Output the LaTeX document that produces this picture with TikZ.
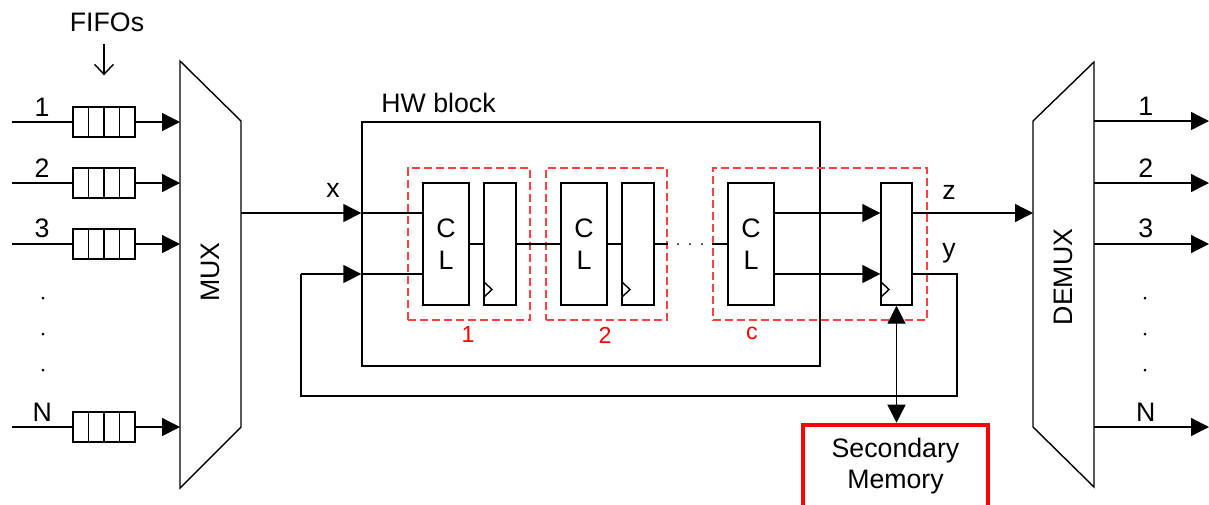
\documentclass[tikz,border=0pt]{standalone}
\usepackage{fontspec}
\setmainfont{Liberation Sans}
\usetikzlibrary{arrows.meta,calc,positioning}

\begin{document}
\begin{tikzpicture}[x=1cm, y=-1cm, line width=0.4pt,
  every node/.style={font=\fontsize{7.6}{9}\selectfont},
  >={Triangle[length=0.18cm,width=0.18cm]},
  fifo/.style={draw, minimum width=0.62cm, minimum height=0.30cm, inner sep=0pt,
    path picture={\foreach \k in {1,2,3}
      \draw ($(path picture bounding box.south west)!\k/4!(path picture bounding box.south east)$)
         -- ($(path picture bounding box.north west)!\k/4!(path picture bounding box.north east)$);}},
  clbox/.style={draw, minimum width=0.46cm, minimum height=1.22cm, inner sep=0pt, align=center},
  regbox/.style={draw, minimum width=0.32cm, minimum height=1.22cm, inner sep=0pt,
    path picture={\draw ([yshift=0.08cm]path picture bounding box.south west)
      -- ++(0.08cm,0.075cm) -- ++(-0.08cm,0.075cm);}},
  stage/.style={draw=red!75, dash pattern=on 0.08cm off 0.04cm, minimum height=1.52cm, inner sep=0pt},
  stagelbl/.style={text=red, font=\fontsize{6.6}{8}\selectfont},
  linelbl/.style={above, inner sep=1.5pt},
  membox/.style={draw=red, line width=1.3pt, minimum width=1.85cm, minimum height=0.82cm, align=center}]

  \useasboundingbox (0,0) rectangle (12.09,5.04);
  \clip (0,0) rectangle (12.09,5.04);

  % inputs and FIFOs
  \node (fifolbl) at (1.07,0.22) {FIFOs};
  \node[fifo] (f1) at (1.04,1.22) {};
  \node[fifo] (f2) at (1.04,1.83) {};
  \node[fifo] (f3) at (1.04,2.44) {};
  \node[fifo] (fn) at (1.04,4.27) {};
  \coordinate (in1) at (0.12,1.22);
  \coordinate (in2) at (0.12,1.83);
  \coordinate (in3) at (0.12,2.44);
  \coordinate (inn) at (0.12,4.27);
  \draw[-{Straight Barb[length=0.1cm,width=0.19cm]}] (f1 |- fifolbl.south) -- ([yshift=0.31cm]f1.north);
  \draw (in1) -- (f1) node[midway,linelbl] {1};
  \draw (in2) -- (f2) node[midway,linelbl] {2};
  \draw (in3) -- (f3) node[midway,linelbl] {3};
  \draw (inn) -- (fn) node[midway,linelbl] {N};
  \fill (0.43,2.98) circle (0.015) (0.43,3.34) circle (0.015) (0.43,3.70) circle (0.015);

  % MUX
  \coordinate (muxtl) at (1.80,0.61);
  \coordinate (muxtr) at (2.41,1.21);
  \coordinate (muxbr) at (2.41,4.27);
  \coordinate (muxbl) at (1.80,4.88);
  \draw (muxtl) -- (muxtr) -- (muxbr) -- (muxbl) -- cycle;
  \node[rotate=90] (muxlbl) at (2.10,2.72) {MUX};
  \draw[->] (f1) -- (f1 -| muxtl);
  \draw[->] (f2) -- (f2 -| muxtl);
  \draw[->] (f3) -- (f3 -| muxtl);
  \draw[->] (fn) -- (fn -| muxtl);

  % HW block
  \node[draw, minimum width=4.58cm, minimum height=2.44cm, inner sep=0pt] (hw) at (5.91,2.44) {};
  \node[anchor=south west] (hwlbl) at (3.69,1.25) {HW block};
  \node[stage, minimum width=1.22cm] (st1) at (4.69,2.44) {};
  \node[stage, minimum width=1.21cm] (st2) at (6.065,2.44) {};
  \node[stage, minimum width=2.14cm] (stc) at (8.20,2.44) {};
  \node[stagelbl] (st1lbl) at (4.68,3.35) {1};
  \node[stagelbl] (st2lbl) at (6.05,3.35) {2};
  \node[stagelbl] (stclbl) at (7.52,3.33) {c};
  \node[clbox] (cl1) at (4.46,2.44) {C\\L};
  \node[regbox] (r1) at (5.00,2.44) {};
  \node[clbox] (cl2) at (5.84,2.44) {C\\L};
  \node[regbox] (r2) at (6.38,2.44) {};
  \node[clbox] (clc) at (7.51,2.44) {C\\L};
  \node[regbox, minimum width=0.31cm] (freg) at (8.965,2.44) {};
  \draw (cl1) -- (r1);
  \draw (r1) -- (cl2);
  \draw (cl2) -- (r2);
  \draw (r2) -- (st2.east |- r2);
  \fill (6.78,2.44) circle (0.01) (6.90,2.44) circle (0.01) (7.02,2.44) circle (0.01);
  \draw (stc.west |- clc) -- (clc);
  \draw[->] ([yshift=0.31cm]clc.east) -- ([yshift=0.31cm]freg.west);
  \draw[->] ([yshift=-0.30cm]clc.east) -- ([yshift=-0.30cm]freg.west);

  % x input and y feedback
  \coordinate (muxout) at (2.41,2.13);
  \draw[->] (muxout) -- (muxout -| hw.west);
  \draw (muxout -| hw.west) -- ([yshift=0.31cm]cl1.west);
  \node (xlbl) at (3.33,1.90) {x};
  \coordinate (yout) at (9.57,2.74);
  \coordinate (fbin) at (3.01,2.74);
  \draw ([yshift=-0.30cm]freg.east) -- (yout) -- ++(0,1.22) -| (fbin);
  \draw[->] (fbin) -- (fbin -| hw.west);
  \draw (fbin -| hw.west) -- ([yshift=-0.30cm]cl1.west);
  \node (zlbl) at (9.49,1.92) {z};
  \node (ylbl) at (9.49,2.53) {y};

  % secondary memory
  \node[membox] (mem) at (8.955,4.66) {Secondary\\Memory};
  \draw[<->] (freg.south) -- (freg.south |- mem.north);

  % DEMUX
  \coordinate (dmxtl) at (10.33,1.21);
  \coordinate (dmxtr) at (10.94,0.62);
  \coordinate (dmxbr) at (10.94,4.87);
  \coordinate (dmxbl) at (10.33,4.27);
  \draw (dmxtl) -- (dmxtr) -- (dmxbr) -- (dmxbl) -- cycle;
  \node[rotate=90] (dmxlbl) at (10.63,2.77) {DEMUX};
  \draw[->] ([yshift=0.31cm]freg.east) -- ([yshift=0.31cm]freg.east -| dmxtl);
  \coordinate (o1) at (12.09,1.21);
  \coordinate (o2) at (12.09,1.83);
  \coordinate (o3) at (12.09,2.44);
  \coordinate (on) at (12.09,4.27);
  \draw[->] (o1 -| dmxtr) -- (o1) node[pos=0.45,linelbl] {1};
  \draw[->] (o2 -| dmxtr) -- (o2) node[pos=0.45,linelbl] {2};
  \draw[->] (o3 -| dmxtr) -- (o3) node[pos=0.45,linelbl] {3};
  \draw[->] (on -| dmxtr) -- (on) node[pos=0.45,linelbl] {N};
  \fill (11.45,2.98) circle (0.015) (11.45,3.34) circle (0.015) (11.45,3.70) circle (0.015);
\end{tikzpicture}
\end{document}
